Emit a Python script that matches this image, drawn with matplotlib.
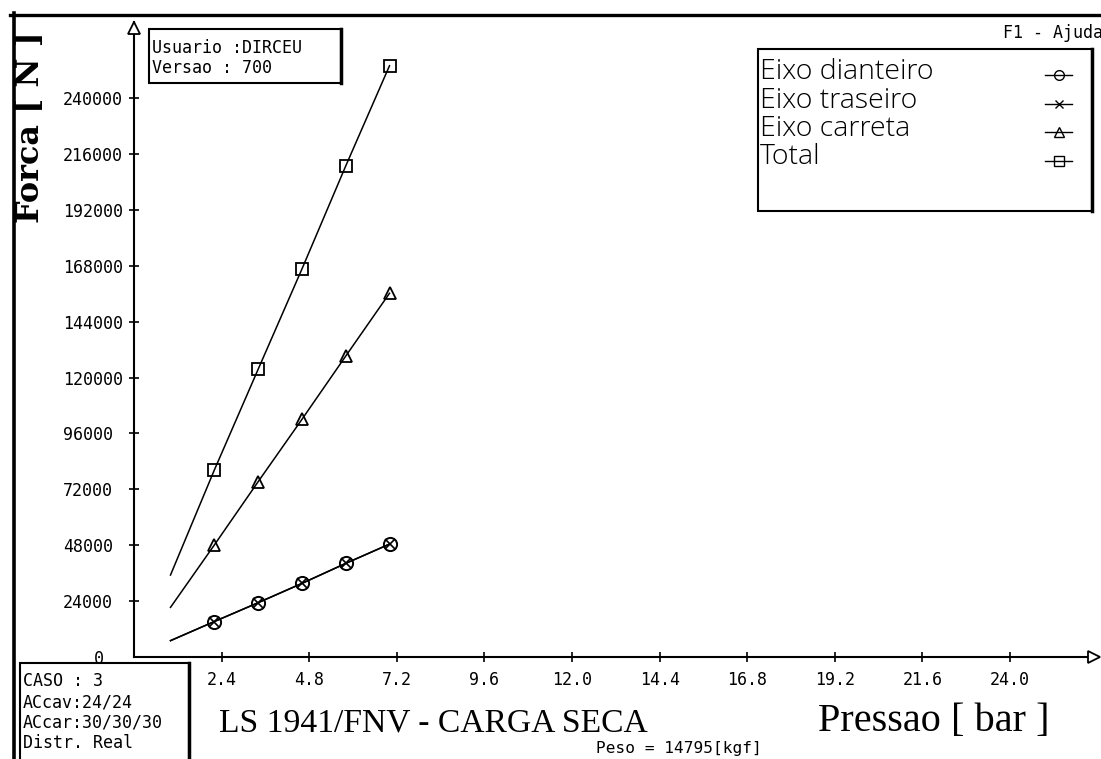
import matplotlib
matplotlib.use('Agg')
import matplotlib.pyplot as plt
from matplotlib.patches import Rectangle
from matplotlib.lines import Line2D
from matplotlib.transforms import offset_copy

# ---------------- data ----------------
pressao = [1.0, 2.2, 3.4, 4.6, 5.8, 7.0]
eixo_dianteiro = [6900, 15100, 23200, 31500, 40100, 48400]
eixo_traseiro = [6900, 15100, 23200, 31500, 40100, 48400]
eixo_carreta = [21200, 48000, 75200, 102000, 129200, 156200]
total = [35100, 80200, 123500, 166600, 210900, 254000]

series_names = ['Eixo dianteiro', 'Eixo traseiro', 'Eixo carreta', 'Total']
series_markers = ['o', 'x', '^', 's']

x_ticks = [2.4, 4.8, 7.2, 9.6, 12.0, 14.4, 16.8, 19.2, 21.6, 24.0]
x_tick_labels = ['2.4', '4.8', '7.2', '9.6', '12.0', '14.4', '16.8', '19.2', '21.6', '24.0']
y_ticks = [24000, 48000, 72000, 96000, 120000, 144000, 168000, 192000, 216000, 240000]
y_tick_labels = ['24000', '48000', '72000', '96000', '120000', '144000',
                 '168000', '192000', '216000', '240000']

X_MAX = 26.41
Y_MAX = 272800

# ---------------- layout helpers ----------------
W, H = 1101, 759
def fx(px):
    return px / W
def fy(py):
    return 1 - py / H

MONO = 'DejaVu Sans Mono'

fig = plt.figure(figsize=(W / 100, H / 100), dpi=100)
fig.patch.set_facecolor('white')

ax = fig.add_axes([fx(134), fy(656.7), (1098 - 134) / W, (656.7 - 22) / H])
ax.set_xlim(0, X_MAX)
ax.set_ylim(0, Y_MAX)
ax.patch.set_alpha(0)
for s in ['top', 'right']:
    ax.spines[s].set_visible(False)
for s in ['left', 'bottom']:
    ax.spines[s].set_linewidth(1.5)
    ax.spines[s].set_color('black')

ax.set_xticks(x_ticks, x_tick_labels)
ax.set_yticks(y_ticks, y_tick_labels)
ax.tick_params(direction='inout', length=7.2, width=1.2, labelsize=12, colors='black')
ax.tick_params(axis='y', pad=47.5)
ax.tick_params(axis='x', pad=6.5)
for t in ax.get_yticklabels():
    t.set_ha('left')
    t.set_family(MONO)
for t in ax.get_xticklabels():
    t.set_family(MONO)

# axis arrow heads
ax.plot([1.0], [0], marker='>', ms=8, mfc='white', mec='black', mew=1.3,
        transform=offset_copy(ax.transAxes, fig=fig, x=-4, y=0, units='dots'),
        clip_on=False, zorder=5)
ax.plot([0], [1.0], marker='^', ms=8, mfc='white', mec='black', mew=1.3,
        transform=offset_copy(ax.transAxes, fig=fig, x=0, y=-6, units='dots'),
        clip_on=False, zorder=5)

mk = [1, 2, 3, 4, 5]
ax.plot(pressao, eixo_dianteiro, color='black', lw=1.1, marker='o', ms=9.5,
        mfc='none', mec='black', mew=1.4, markevery=mk)
ax.plot(pressao, eixo_traseiro, color='black', lw=1.1, marker='x', ms=7.5,
        mec='black', mew=1.2, markevery=mk)
ax.plot(pressao, eixo_carreta, color='black', lw=1.1, marker='^', ms=9,
        mfc='none', mec='black', mew=1.3, markevery=mk)
ax.plot(pressao, total, color='black', lw=1.1, marker='s', ms=8.5,
        mfc='none', mec='black', mew=1.3, markevery=mk)

# legend box
fig.add_artist(Rectangle((fx(758), fy(211)), (1092 - 758) / W, (211 - 49) / H,
                         transform=fig.transFigure, fill=True, fc='white',
                         ec='black', lw=1.5, zorder=4))
fig.add_artist(Line2D([fx(1092), fx(1092)], [fy(49), fy(211)], color='black',
                      lw=2.5, transform=fig.transFigure, zorder=4.5))
legend_rows = [72, 100.5, 129, 157.5]
for yy, name, m in zip(legend_rows, series_names, series_markers):
    fig.text(fx(760), fy(yy), name, ha='left', va='center',
             family='Open Sans', weight='light', size=20.5, zorder=6)
    fig.add_artist(Line2D([fx(1045), fx(1072)], [fy(yy + 3), fy(yy + 3)],
                          color='black', lw=1.0, transform=fig.transFigure, zorder=6))
    fig.add_artist(Line2D([fx(1058.5)], [fy(yy + 3)], marker=m, ms=7 if m != 'x' else 6,
                          mfc='none', mec='black', mew=1.0, linestyle='none',
                          transform=fig.transFigure, zorder=6))

# axis labels
fig.text(fx(31), fy(127), 'Forca [ N ]', rotation=90, ha='center', va='center',
         family='DejaVu Serif', weight='bold', size=23)
fig.text(fx(219), fy(723.5), 'LS 1941/FNV - CARGA SECA', ha='left', va='center',
         family='Liberation Serif', size=24.2)
fig.text(fx(818), fy(722), 'Pressao [ bar ]', ha='left', va='center',
         family='Liberation Serif', size=29)
fig.text(fx(595.6), fy(749), 'Peso = 14795[kgf]', ha='left', va='center',
         family=MONO, size=11.6)
fig.text(fx(1003), fy(33), 'F1 - Ajuda', ha='left', va='center', family=MONO, size=12)
fig.text(fx(99), fy(659), '0', ha='center', va='center', family=MONO, size=12, zorder=2)

# user box
fig.add_artist(Rectangle((fx(149), fy(83)), (341 - 149) / W, (83 - 29) / H,
                         transform=fig.transFigure, fc='white', ec='black',
                         lw=1.5, zorder=4))
fig.add_artist(Line2D([fx(341), fx(341)], [fy(29), fy(83)], color='black', lw=2.5,
                      transform=fig.transFigure, zorder=4.5))
fig.text(fx(152), fy(48), 'Usuario :DIRCEU', ha='left', va='center', family=MONO,
         size=12, zorder=6)
fig.text(fx(152), fy(68), 'Versao : 700', ha='left', va='center', family=MONO,
         size=12, zorder=6)

# case box
fig.add_artist(Rectangle((fx(20), fy(765)), (189 - 20) / W, (765 - 663) / H,
                         transform=fig.transFigure, fc='white', ec='black',
                         lw=1.5, zorder=4))
fig.add_artist(Line2D([fx(189), fx(189)], [fy(663), fy(765)], color='black', lw=2.5,
                      transform=fig.transFigure, zorder=4.5))
for yy, s in zip([681, 702.5, 722.5, 743.5],
                 ['CASO : 3', 'ACcav:24/24', 'ACcar:30/30/30', 'Distr. Real']):
    fig.text(fx(23), fy(yy), s, ha='left', va='center', family=MONO, size=12, zorder=6)

# screen frame
fig.add_artist(Line2D([fx(10), fx(1101)], [fy(15), fy(15)], color='black', lw=2.4,
                      transform=fig.transFigure, zorder=7))
fig.add_artist(Line2D([fx(13.5), fx(13.5)], [fy(13), fy(759)], color='black', lw=2.6,
                      transform=fig.transFigure, zorder=7))

fig.savefig('out.png', dpi=100)
